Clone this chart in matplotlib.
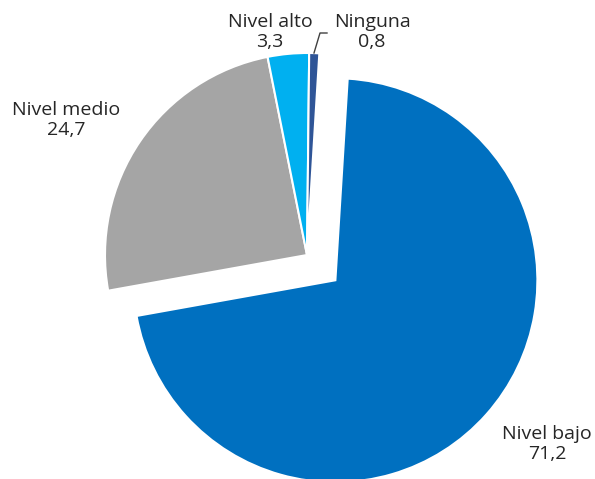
import matplotlib
matplotlib.use("Agg")
import matplotlib.pyplot as plt

# Distribution by level
categories = ["Nivel bajo", "Nivel medio", "Nivel alto", "Ninguna"]
values = [71.2, 24.7, 3.3, 0.8]
colors = ["#0070C0", "#A5A5A5", "#00B0F0", "#2F5597"]
explode = [38, 0, 0, 0]  # px, since axes units are pixels

plt.rcParams["font.family"] = ["Open Sans", "DejaVu Sans"]

fig = plt.figure(figsize=(5.95, 4.79), dpi=100)
ax = fig.add_axes([0, 0, 1, 1])

# axes units are pixels: centre and radius in px
ax.pie(values, colors=colors, explode=explode, startangle=86.5, counterclock=False,
       center=(307, 224), radius=202, frame=False,
       wedgeprops=dict(edgecolor="white", linewidth=1.5))
ax.set_xlim(0, 595)
ax.set_ylim(0, 479)
ax.set_aspect("equal")
ax.axis("off")


def fmt(v):
    return f"{v:.1f}".replace(".", ",")


label_pos = {
    "Nivel bajo": (547, 35),
    "Nivel medio": (66, 359),
    "Nivel alto": (270, 447),
    "Ninguna": (372, 447),
}
for cat, val in zip(categories, values):
    x, y = label_pos[cat]
    ax.text(x, y, f"{cat}\n{fmt(val)}", ha="center", va="center",
            fontsize=14, color="#262626", linespacing=1.2)

# leader line for the small slice
ax.plot([314, 320, 327], [426, 446, 446], color="#404040", lw=1)

fig.savefig("out.png", dpi=100)
